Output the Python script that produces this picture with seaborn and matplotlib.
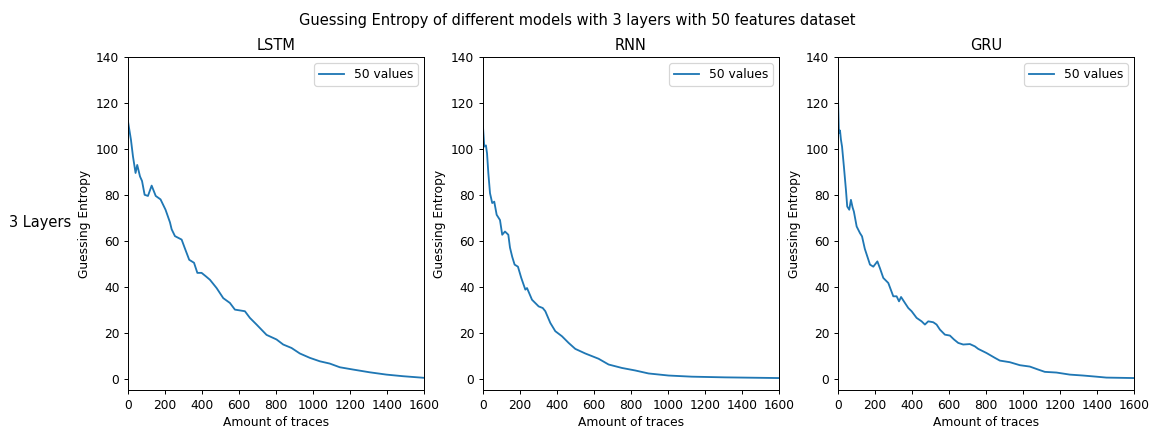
import numpy as np
import pandas as pd
import matplotlib
matplotlib.use("Agg")
import matplotlib.pyplot as plt
import seaborn as sns

models = ["LSTM", "RNN", "GRU"]
series_label = "50 values"
xticks = [0, 200, 400, 600, 800, 1000, 1200, 1400, 1600]
yticks = [0, 20, 40, 60, 80, 100, 120, 140]

lstm_x = [0, 16, 27, 41, 50, 65, 76, 90, 108, 128, 150, 176, 203, 227, 236, 254, 290, 307,
          331, 357, 375, 398, 421, 443, 479, 515, 551, 578, 632, 659, 695, 749, 803, 839,
          884, 929, 983, 1037, 1091, 1145, 1217, 1307, 1397, 1487, 1600]
lstm_y = [112, 104, 96.7, 89.5, 93, 88, 86, 80, 79.5, 84, 79.5, 78, 73.5, 68, 65, 62, 60.5,
          56.8, 51.7, 50.4, 46, 46, 44.5, 43, 39.4, 35, 32.9, 30, 29.3, 26.4, 23.5, 19, 17,
          14.8, 13.3, 10.9, 9, 7.5, 6.5, 4.9, 3.9, 2.7, 1.7, 1.0, 0.3]

rnn_x = [0, 7, 16, 22, 29, 38, 50, 61, 74, 92, 104, 119, 137, 146, 158, 171, 189, 207, 229,
         238, 265, 301, 323, 337, 364, 391, 427, 463, 499, 553, 625, 679, 751, 823, 895,
         1003, 1129, 1309, 1600]
rnn_y = [109.7, 101, 101.5, 98, 89.4, 80.7, 76.4, 77, 71.3, 69, 62.6, 64, 62.6, 57, 53,
         49.6, 48.7, 43.8, 38.7, 39.4, 34.3, 31.4, 30.7, 29.3, 24.2, 20.6, 18.4, 15.5, 12.9,
         10.9, 8.6, 6.1, 4.6, 3.5, 2.2, 1.3, 0.8, 0.5, 0.2]

gru_x = [0, 5, 11, 16, 22, 32, 43, 50, 61, 70, 79, 86, 101, 119, 130, 145, 173, 191, 213,
         227, 245, 272, 299, 317, 330, 341, 362, 380, 398, 425, 452, 470, 488, 515, 533,
         551, 578, 605, 627, 650, 677, 713, 740, 758, 803, 848, 875, 929, 983, 1037, 1082,
         1118, 1181, 1253, 1325, 1397, 1451, 1600]
gru_y = [122.7, 106.8, 108, 104, 101, 92.3, 82.2, 74.9, 73.5, 77.8, 74.5, 72.7, 66.2, 63.3,
         61.9, 56.5, 49.6, 48.7, 51, 48, 43.8, 41.6, 35.8, 35.8, 33.6, 35.5, 32.9, 30.7,
         29.3, 26.4, 24.9, 23.5, 24.9, 24.5, 23.5, 21.3, 19.1, 18.7, 17, 15.5, 14.8, 15,
         14, 12.9, 11.1, 9, 7.8, 7.1, 5.8, 5.2, 3.9, 2.9, 2.6, 1.7, 1.3, 0.8, 0.4, 0.2]

data = {
    "LSTM": (lstm_x, lstm_y),
    "RNN": (rnn_x, rnn_y),
    "GRU": (gru_x, gru_y),
}

DPI = 88
fig, axes = plt.subplots(1, 3, figsize=(1155 / DPI, 428 / DPI), dpi=DPI)
fig.subplots_adjust(left=0.1108, right=0.9818, top=0.8668, bottom=0.0888, wspace=0.1993)

for ax, name in zip(axes, models):
    xs, ys = data[name]
    df = pd.DataFrame({"traces": xs, "ge": ys})
    sns.lineplot(data=df, x="traces", y="ge", ax=ax, color="#1f77b4",
                 linewidth=1.5, label=series_label)
    ax.set_title(name, fontsize=12)
    ax.set_xlabel("Amount of traces")
    ax.set_ylabel("Guessing Entropy")
    ax.set_xlim(0, 1600)
    ax.set_ylim(-5, 140)
    ax.set_xticks(xticks)
    ax.set_yticks(yticks)
    ax.legend(loc="upper right")

fig.suptitle("Guessing Entropy of different models with 3 layers with 50 features dataset",
             fontsize=12, y=0.953, va="center")
fig.text(0.008, 0.479, "3 Layers", fontsize=12, va="center", ha="left")

fig.savefig("out.png", dpi=DPI)
